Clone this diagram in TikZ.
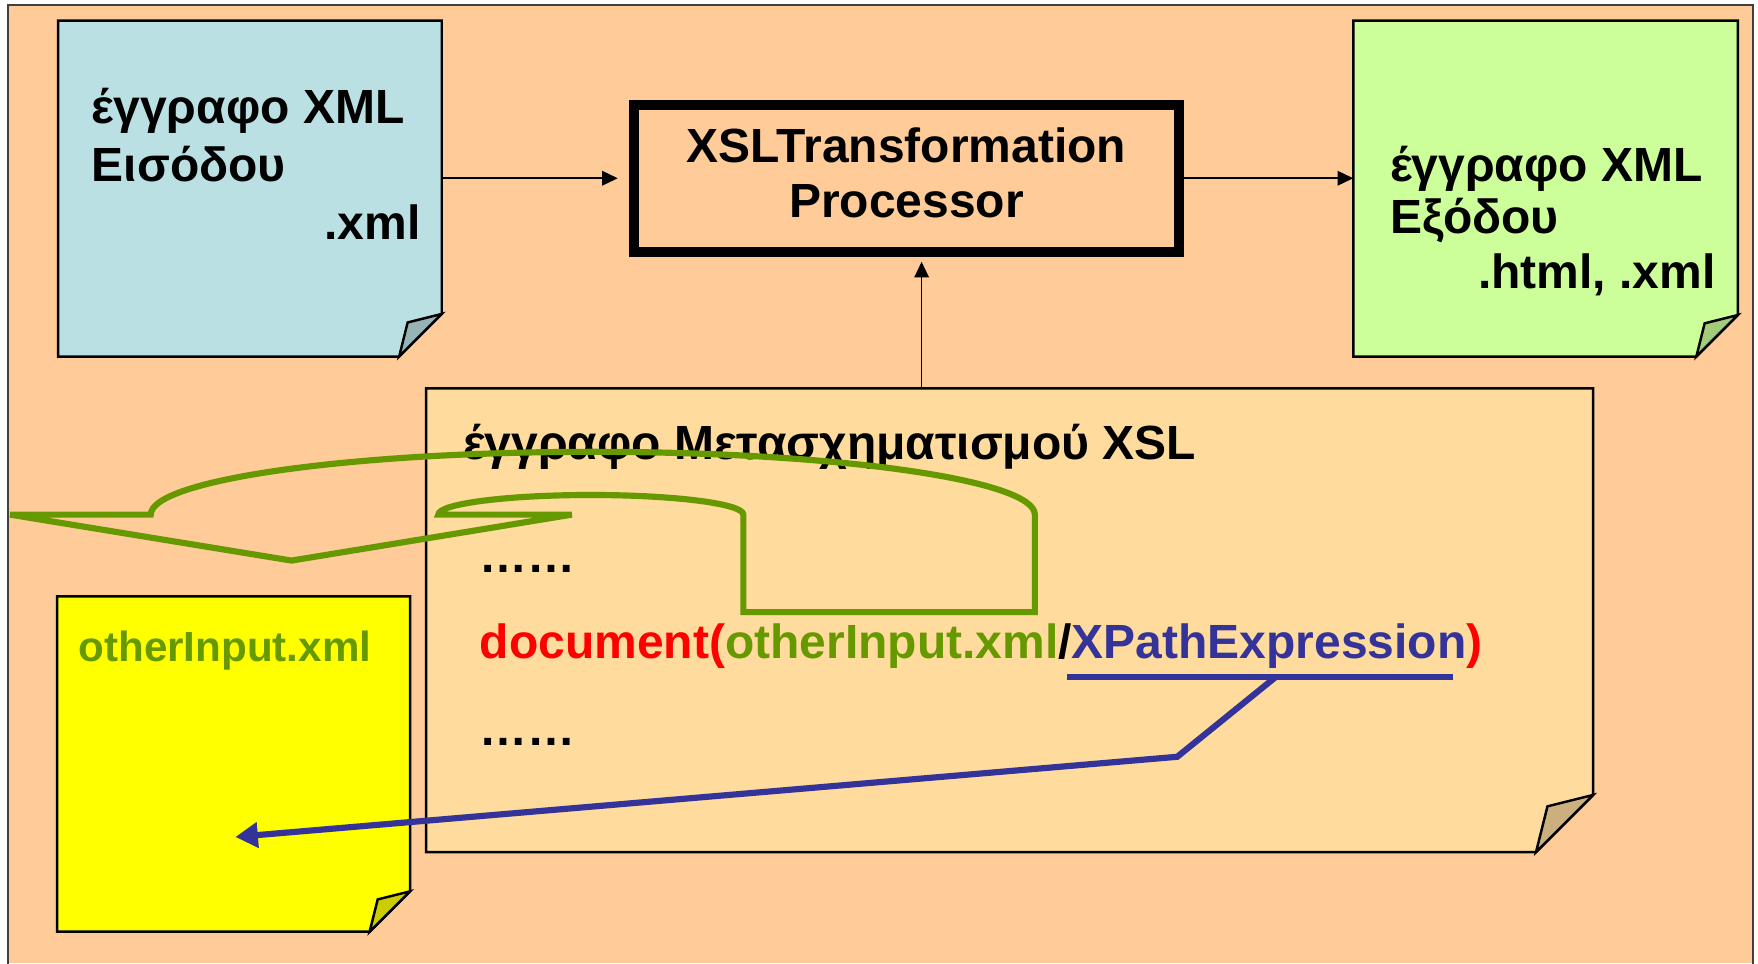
\documentclass[tikz,border=0pt]{standalone}
\usepackage{fontspec}
\setmainfont{Liberation Sans}
\usetikzlibrary{arrows.meta,calc}

\definecolor{pagebg}{HTML}{FFCC99}
\definecolor{framegray}{HTML}{404040}
\definecolor{inblue}{HTML}{BBE0E3}
\definecolor{outgreen}{HTML}{CCFF99}
\definecolor{xslpaper}{HTML}{FFDB9D}
\definecolor{otheryellow}{HTML}{FFFF00}
\definecolor{fnred}{HTML}{FF0000}
\definecolor{argolive}{HTML}{669900}
\definecolor{xpblue}{HTML}{333399}

% sheet of paper with a dog-eared lower right corner, drawn round an empty node
\newcommand\paperdoc[3]{%
  \draw[docline, fill=#3] (#1.north west) -- (#1.north east)
    -- ([yshift=#2pt]#1.south east) -- ([xshift=-#2pt]#1.south east)
    -- (#1.south west) -- cycle;
  \draw[docline, fill=#3!80!black] ([yshift=#2pt]#1.south east)
    -- ([xshift={-0.8*#2pt}, yshift={0.8*#2pt}]#1.south east)
    -- ([xshift=-#2pt]#1.south east) -- cycle;}

\begin{document}
\begin{tikzpicture}[x=1pt, y=1pt,
  docarea/.style={inner sep=0, outer sep=0, draw=none},
  docline/.style={draw=black, line width=2.2pt, line join=miter},
  lbl/.style={font=\bfseries\fontsize{42.8}{49}\selectfont, inner sep=0, outer sep=0},
  smalllbl/.style={font=\bfseries\fontsize{37.6}{44}\selectfont, inner sep=0, outer sep=0},
  procbox/.style={draw=black, line width=9pt, fill=pagebg, inner sep=0},
  flow/.style={draw=black, line width=1.5pt, -{Triangle[length=14pt,width=13pt]}},
  xpline/.style={draw=xpblue, line width=5.5pt},
  uturn/.style={draw=argolive, line width=5.5pt, line join=miter}]

\useasboundingbox (0,0) rectangle (1568,859);
\fill[white] (0,0) rectangle (1568,859);
\fill[pagebg] (7,0) rectangle (1563.5,854.5);
\draw[framegray, line width=1.5pt] (7,-5) -- (7,854.5) -- (1563.5,854.5) -- (1563.5,-5);

% the four documents
\node[docarea, minimum width=342.2, minimum height=299.5] (inxml) at (222.9,690.75) {};
\paperdoc{inxml}{38}{inblue}
\node[docarea, minimum width=343, minimum height=299.5] (outxml) at (1378.5,690.75) {};
\paperdoc{outxml}{37}{outgreen}
\node[docarea, minimum width=1041, minimum height=413.5] (xsldoc) at (900.5,305.75) {};
\paperdoc{xsldoc}{51}{xslpaper}
\node[docarea, minimum width=314.7, minimum height=299] (other) at (208.35,177.5) {};
\paperdoc{other}{36}{otheryellow}

% input document
\node[lbl, anchor=base west] (inA) at (82,748.4) {έγγραφο XML};
\node[lbl, anchor=base west] (inB) at (82,697) {Εισόδου};
\node[lbl, anchor=base east] (inC) at (375,645) {.xml};

% output document
\node[lbl, anchor=base west] (outA) at (1240,697) {έγγραφο XML};
\node[lbl, anchor=base west] (outB) at (1240,651) {Εξόδου};
\node[lbl, anchor=base east] (outC) at (1530,602) {.html, .xml};

% processor
\node[procbox, minimum width=486, minimum height=131] (proc) at (808.5,700) {};
\node[lbl, anchor=base] (procA) at (808.5,714.4) {XSLTransformation};
\node[lbl, anchor=base] (procB) at (808.5,665.4) {Processor};

% stylesheet contents
\node[lbl, anchor=base west] (xsltitle) at (413,449) {έγγραφο Μετασχηματισμού XSL};
\node[lbl, anchor=base west] (dotsA) at (428,348) {……};
\node[lbl, anchor=base west, text=fnred] (fn) at (428,272) {document(};
\node[lbl, anchor=base west, text=argolive] (arg) at (fn.base east) {otherInput.xml};
\node[lbl, anchor=base west] (slash) at (arg.base east) {/};
\node[lbl, anchor=base west, text=xpblue] (xp) at (slash.base east) {XPathExpression};
\node[lbl, anchor=base west, text=fnred] (close) at (xp.base east) {)};
\node[lbl, anchor=base west] (dotsB) at (428,194.5) {……};

% second input
\node[smalllbl, anchor=base west, text=argolive] (otherlbl) at (70,269) {otherInput.xml};

% data flow
\draw[flow] (proc.west -| inxml.east) -- ([xshift=-10pt]proc.west);
\draw[flow] (proc.east) -- (proc.east -| outxml.west);
\coordinate (tap) at ([xshift=13.5pt]proc.south);
\draw[flow] (xsldoc.north -| tap) -- ([yshift=-4.5pt]tap);

% u-turn arrow: document() loads another input
\draw[uturn] (9,400) -- (134.5,400)
  .. controls (134.5,430.9) and (311,456) .. (528.75,456)
  .. controls (746.5,456) and (923,430.9) .. (923,400)
  -- (923,313) -- (663,313) -- (663,400)
  .. controls (663,409.7) and (602.1,417.5) .. (527,417.5)
  .. controls (451.9,417.5) and (391,409.7) .. (391,400)
  -- (510,400) -- (260,359) -- cycle;

% XPath expression selects inside otherInput.xml
\coordinate (ulL) at ([xshift=-4pt, yshift=-17pt]xp.base west);
\coordinate (ulR) at ([xshift=-12pt, yshift=-17pt]xp.base east);
\draw[xpline] (ulL) -- (ulR);
\coordinate (ulTap) at ($(ulL)!0.54!(ulR)$);
\coordinate (bend) at (1050,184);
\coordinate (target) at (210,112.5);
\draw[xpline, line join=miter, -{Triangle[length=20pt,width=22pt]}] (ulTap) -- (bend) -- (target);

\end{tikzpicture}
\end{document}
